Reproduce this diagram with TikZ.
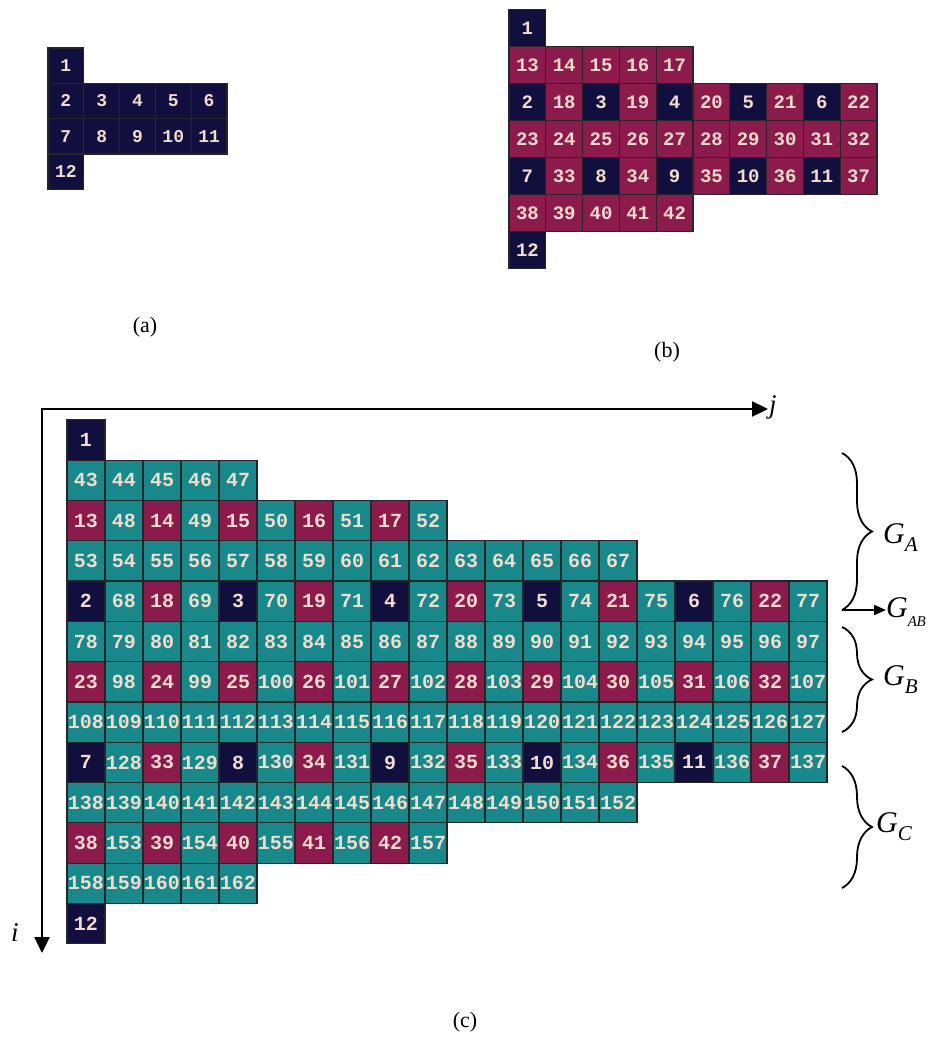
\documentclass[tikz,border=0pt]{standalone}
\usepackage{fontspec}
\setmainfont{Liberation Serif}
\setmonofont{Liberation Mono}
\usetikzlibrary{arrows.meta,decorations.pathreplacing}
\definecolor{colN}{HTML}{100F3D}
\definecolor{colM}{HTML}{8C1B4B}
\definecolor{colT}{HTML}{17898A}
\definecolor{colX}{HTML}{F3DCCB}
\tikzset{cell/.style={draw=black!85,line width=1.2pt,inner sep=0pt,text=colX},
  brc/.style={decorate,decoration={brace,amplitude=30pt},line width=1.8pt},
  lbl/.style={font=\fontsize{22}{26}\selectfont},
  gl/.style={font=\fontsize{30}{32}\selectfont\itshape,inner sep=0pt,anchor=west}}

\begin{document}
\begin{tikzpicture}[x=1pt,y=-1pt]
\useasboundingbox (0,0) rectangle (928,1055);
% (a)
\begin{scope}[shift={(30.1,30.35)},x=35.8pt,y=-35.3pt,cell/.append style={minimum width=35.8pt,minimum height=35.3pt,font=\fontsize{18}{18}\selectfont\ttfamily\bfseries}]
\node[cell,fill=colN] (a1) at (1,1) {1};
\foreach \t [count=\c] in {2,...,6}{\node[cell,fill=colN] (a\t) at (\c,2) {\t};}
\foreach \t [count=\c] in {7,...,11}{\node[cell,fill=colN] (a\t) at (\c,3) {\t};}
\node[cell,fill=colN] (a12) at (1,4) {12};
\end{scope}
\node[lbl] (la) at (145,327) {(a)};
% (b)
\begin{scope}[shift={(490.6,-8.65)},x=36.8pt,y=-36.9pt,cell/.append style={minimum width=36.8pt,minimum height=36.9pt,font=\fontsize{19}{19}\selectfont\ttfamily\bfseries}]
\node[cell,fill=colN] (b1) at (1,1) {1};
\foreach \t [count=\c] in {13,...,17}{\node[cell,fill=colM] (b\t) at (\c,2) {\t};}
\foreach \f/\t [count=\c] in {N/2,M/18,N/3,M/19,N/4,M/20,N/5,M/21,N/6,M/22}{\node[cell,fill=col\f] (b\t) at (\c,3) {\t};}
\foreach \t [count=\c] in {23,...,32}{\node[cell,fill=colM] (b\t) at (\c,4) {\t};}
\foreach \f/\t [count=\c] in {N/7,M/33,N/8,M/34,N/9,M/35,N/10,M/36,N/11,M/37}{\node[cell,fill=col\f] (b\t) at (\c,5) {\t};}
\foreach \t [count=\c] in {38,...,42}{\node[cell,fill=colM] (b\t) at (\c,6) {\t};}
\node[cell,fill=colN] (b12) at (1,7) {12};
\end{scope}
\node[lbl] (lb) at (667,352) {(b)};
% (c)
\begin{scope}[shift={(48,399.7)},x=38pt,y=-40.3pt,cell/.append style={minimum width=38pt,minimum height=40.3pt,font=\fontsize{20}{20}\selectfont\ttfamily\bfseries}]
\node[cell,fill=colN] (c1) at (1,1) {1};
\foreach \t [count=\c] in {43,...,47}{\node[cell,fill=colT] (c\t) at (\c,2) {\t};}
\foreach \f/\t [count=\c] in {M/13,T/48,M/14,T/49,M/15,T/50,M/16,T/51,M/17,T/52}{\node[cell,fill=col\f] (c\t) at (\c,3) {\t};}
\foreach \t [count=\c] in {53,...,67}{\node[cell,fill=colT] (c\t) at (\c,4) {\t};}
\foreach \f/\t [count=\c] in {N/2,T/68,M/18,T/69,N/3,T/70,M/19,T/71,N/4,T/72,M/20,T/73,N/5,T/74,M/21,T/75,N/6,T/76,M/22,T/77}{\node[cell,fill=col\f] (c\t) at (\c,5) {\t};}
\foreach \t [count=\c] in {78,...,97}{\node[cell,fill=colT] (c\t) at (\c,6) {\t};}
\foreach \f/\t [count=\c] in {M/23,T/98,M/24,T/99,M/25,T/100,M/26,T/101,M/27,T/102,M/28,T/103,M/29,T/104,M/30,T/105,M/31,T/106,M/32,T/107}{\node[cell,fill=col\f] (c\t) at (\c,7) {\t};}
\foreach \t [count=\c] in {108,...,127}{\node[cell,fill=colT] (c\t) at (\c,8) {\t};}
\foreach \f/\t [count=\c] in {N/7,T/128,M/33,T/129,N/8,T/130,M/34,T/131,N/9,T/132,M/35,T/133,N/10,T/134,M/36,T/135,N/11,T/136,M/37,T/137}{\node[cell,fill=col\f] (c\t) at (\c,9) {\t};}
\foreach \t [count=\c] in {138,...,152}{\node[cell,fill=colT] (c\t) at (\c,10) {\t};}
\foreach \f/\t [count=\c] in {M/38,T/153,M/39,T/154,M/40,T/155,M/41,T/156,M/42,T/157}{\node[cell,fill=col\f] (c\t) at (\c,11) {\t};}
\foreach \t [count=\c] in {158,...,162}{\node[cell,fill=colT] (c\t) at (\c,12) {\t};}
\node[cell,fill=colN] (c12) at (1,13) {12};
\end{scope}
\node[lbl] (lc) at (465,1022) {(c)};
% axes
\coordinate (o) at (42,409);\coordinate (iend) at (42,953);
\node[anchor=west,inner sep=1pt,font=\fontsize{27}{29}\selectfont\itshape] (jl) at (768,407) {j};
\node[font=\fontsize{27}{29}\selectfont\itshape] (il) at (15,933) {i};
\draw[line width=2.4pt,{Triangle[length=16pt,width=15pt]}-{Triangle[length=16pt,width=15pt]}] (iend) -- (o) -- (o -| jl.west);
% groups
\coordinate (ga1) at (842,453);\coordinate (ga2) at (842,610);
\coordinate (gb1) at (842,627);\coordinate (gb2) at (842,732);
\coordinate (gc1) at (842,766);\coordinate (gc2) at (842,888);
\draw[brc] (ga1) -- (ga2);\draw[brc] (gb1) -- (gb2);\draw[brc] (gc1) -- (gc2);
\node[gl] (gA) at (883,538) {G\raisebox{-8pt}{\fontsize{21}{21}\selectfont A}};
\node[gl] (gAB) at (886,612) {G\raisebox{-9pt}{\fontsize{15}{15}\selectfont A\kern-0.5pt B}};
\node[gl] (gB) at (883,680) {G\raisebox{-8pt}{\fontsize{21}{21}\selectfont B}};
\node[gl] (gC) at (876,827) {G\raisebox{-8pt}{\fontsize{21}{21}\selectfont C}};
\draw[line width=2pt,-{Triangle[length=12pt,width=10pt]}] (ga2) -- (ga2 -| gAB.west);
\end{tikzpicture}
\end{document}
